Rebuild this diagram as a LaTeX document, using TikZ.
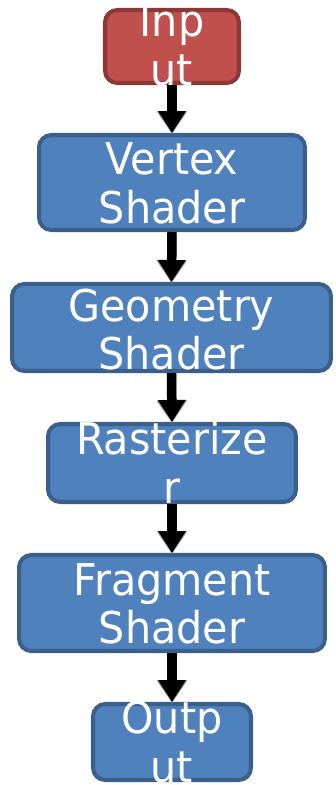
\documentclass[tikz,border=0pt]{standalone}
\usepackage{fontspec}
\setmainfont{DejaVu Sans}
\usetikzlibrary{arrows.meta}

\definecolor{stageblue}{HTML}{4F81BD}
\definecolor{stageblueline}{HTML}{3A5F8B}
\definecolor{stagered}{HTML}{C0504D}
\definecolor{stageredline}{HTML}{8C3836}

\tikzstyle{stage}=[rectangle, line width=2.3pt, rounded corners=7pt,
                   fill=stageblue, draw=stageblueline, inner sep=0pt]
\tikzstyle{stagetext}=[text=white, align=center, inner sep=0pt, yscale=1.06,
                       font=\fontsize{23.5}{26}\selectfont]
\tikzstyle{flow}=[-{Triangle[width=15pt,length=12.5pt]}, line width=5.4pt, black,
                  preaction={draw=black!40, line width=5.4pt,
                             -{Triangle[width=16.5pt,length=13pt]},
                             transform canvas={yshift=-0.7pt}}]

\begin{document}
\begin{tikzpicture}[x=0.02cm, y=-0.02cm]

\useasboundingbox (0, 0) rectangle (335, 785);

%%%%%%%%%%%%%%%%%%
%%%%%%%%%%%%%%%%%%
\node (Input) at (172, 46.5) [stage, fill=stagered, draw=stageredline,
      minimum width=2.68cm, minimum height=1.46cm] {};
\node (Input_Text) at (172, 45.5) [stagetext] {Inp\\ut};

%%%%%%%%%%%%%%%%%%
\node (Vertex_Shader) at (172, 182.5) [stage, minimum width=5.32cm, minimum height=1.9cm] {};
\node (Vertex_Shader_Text) at (172, 183.5) [stagetext] {Vertex\\Shader};

%%%%%%%%%%%%%%%%%%
\node (Geometry_Shader) at (171.5, 327.5) [stage, minimum width=6.38cm, minimum height=1.74cm] {};
\node (Geometry_Shader_Text) at (171.5, 329.5) [stagetext] {Geometry\\Shader};

%%%%%%%%%%%%%%%%%%
\node (Rasterizer) at (172, 463) [stage, minimum width=4.96cm, minimum height=1.56cm] {};
\node (Rasterizer_Text) at (172, 462.5) [stagetext] {Rasterize\\r};

%%%%%%%%%%%%%%%%%%
\node (Fragment_Shader) at (172, 603) [stage, minimum width=6.12cm, minimum height=1.92cm] {};
\node (Fragment_Shader_Text) at (172, 604) [stagetext] {Fragment\\Shader};

%%%%%%%%%%%%%%%%%%
\node (Output) at (172, 742) [stage, minimum width=3.16cm, minimum height=1.52cm] {};
\node (Output_Text) at (172, 742) [stagetext] {Outp\\ut};

%%%%%%%%%%%%%%%%%%%%
%%%%%%%%%%%%%%%%%%%%
\draw [flow] (Input.south) to (Vertex_Shader.north);

\draw [flow] (Vertex_Shader.south) to (Geometry_Shader.north);

\draw [flow] (Geometry_Shader.south) to (Rasterizer.north);

\draw [flow] (Rasterizer.south) to (Fragment_Shader.north);

\draw [flow] (Fragment_Shader.south) to (Output.north);

\end{tikzpicture}
\end{document}
